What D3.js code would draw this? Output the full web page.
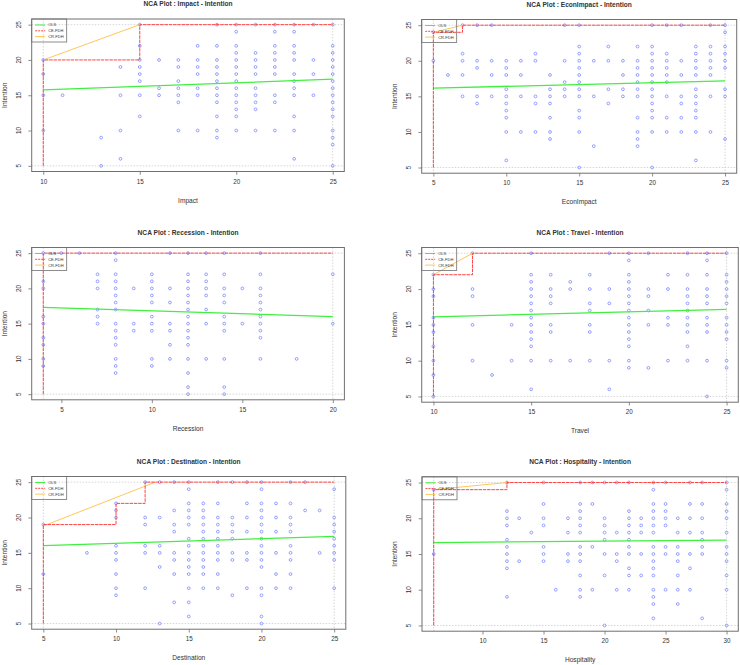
<!DOCTYPE html>
<html>
<head>
<meta charset="utf-8">
<script src="https://cdn.jsdelivr.net/npm/d3@7"></script>
<style>
  html, body { margin: 0; padding: 0; background: #ffffff; }
  svg { display: block; }
  text { font-family: "Liberation Sans", Arial, sans-serif; fill: #333; }
</style>
</head>
<body>
<svg id="chart" width="740" height="665"></svg>
<script>
// ---------- DATA ----------
const yName = "Intention";
const yTicks = [5, 10, 15, 20, 25];
const yRange = [5, 25];

// points grouped by x value: [x, [y values]]
const impactPoints = [
  [10, [20, 18, 15, 10]], [11, [15]], [13, [9, 5]], [14, [19, 15, 10, 6]],
  [15, [25, 22, 20, 19, 18, 17, 15, 12]], [16, [20, 16, 15]],
  [17, [20, 19, 17, 16, 15, 14, 10]], [18, [22, 20, 19, 18, 16, 15, 10]],
  [19, [25, 22, 20, 19, 18, 17, 16, 15, 14, 12, 10, 9]],
  [20, [25, 24, 22, 21, 20, 19, 18, 17, 16, 15, 14, 13, 12, 10]],
  [21, [25, 21, 20, 19, 18, 16, 15, 14, 13, 10]],
  [22, [25, 24, 22, 21, 20, 19, 18, 15, 14, 10]],
  [23, [25, 24, 22, 21, 20, 18, 17, 16, 15, 12, 10, 6]],
  [24, [25, 20, 18, 15]],
  [25, [25, 22, 21, 20, 19, 18, 17, 16, 15, 14, 13, 12, 10, 9, 8, 5]]
];
const econImpactPoints = [
  [5, [24, 20]], [6, [18]], [7, [25, 21, 20, 18, 15]], [8, [25, 20, 19, 15, 14]],
  [9, [25, 20, 18, 15]], [10, [20, 19, 18, 16, 15, 14, 13, 12, 10, 6]],
  [11, [20, 18, 15, 10]], [12, [21, 20, 15, 14, 10]], [13, [18, 16, 15, 14, 12, 10, 9]],
  [14, [25, 20, 17, 16, 15]], [15, [25, 22, 21, 20, 19, 18, 17, 16, 15, 13, 12, 10, 5]],
  [16, [20, 15, 8]], [17, [22, 20, 16, 14]], [18, [20, 18, 16, 15]],
  [19, [22, 20, 19, 18, 17, 16, 15, 12, 10, 9, 8]],
  [20, [25, 22, 21, 20, 19, 18, 17, 16, 15, 14, 13, 12, 10, 5]],
  [21, [25, 21, 20, 19, 18, 17, 15, 12, 10]], [22, [25, 20, 18, 15, 14, 12, 10]],
  [23, [22, 21, 20, 19, 18, 16, 15, 14, 13, 12, 10, 6]],
  [24, [25, 22, 21, 20, 19, 18, 15, 10]], [25, [25, 24, 22, 21, 20, 19, 16, 15, 9]]
];
const recessionPoints = [
  [4, [25, 21, 20, 16, 15, 13, 12, 10, 9]], [5, [25]], [6, [25]],
  [7, [22, 21, 20, 17, 16, 15]],
  [8, [25, 24, 22, 21, 20, 19, 18, 17, 15, 14, 13, 12, 10, 9, 8]],
  [9, [20, 15, 14]], [10, [22, 21, 20, 19, 18, 16, 15, 14, 10, 9]],
  [11, [25, 20, 18, 15, 14, 12, 10]],
  [12, [25, 22, 21, 20, 19, 18, 17, 16, 15, 14, 13, 12, 10, 8, 6, 5]],
  [13, [25, 22, 21, 20, 19, 17, 15, 10]],
  [14, [25, 22, 20, 19, 18, 16, 15, 14, 10, 6, 5]], [15, [20, 15]],
  [16, [25, 22, 20, 19, 18, 17, 16, 15, 14, 13, 10]], [18, [10]], [20, [22, 15]]
];
const travelPoints = [
  [10, [22, 20, 19, 16, 15, 14, 12, 10, 8, 5]], [12, [25, 20, 19, 15, 10]], [13, [8]],
  [14, [15, 10]], [15, [25, 22, 21, 20, 19, 18, 17, 16, 15, 14, 13, 12, 10, 6]],
  [16, [22, 20, 19, 18, 15, 14, 10]], [17, [21, 20, 10]], [18, [22, 20, 18, 17, 15, 14, 10]],
  [19, [25, 20, 18, 10, 6]], [20, [25, 24, 22, 21, 20, 19, 18, 17, 16, 15, 14, 13, 12, 10, 9]],
  [21, [25, 20, 19, 17, 15, 9]], [22, [22, 20, 16, 15, 10]],
  [23, [25, 22, 20, 19, 18, 17, 16, 15, 14, 12, 10]],
  [24, [25, 24, 22, 20, 19, 18, 16, 15, 14, 10, 5]],
  [25, [25, 22, 21, 20, 19, 18, 16, 15, 14, 13, 10, 9]]
];
const destinationPoints = [
  [5, [19, 12]], [8, [15]], [10, [22, 21, 20, 16, 15, 14, 12, 10, 9]],
  [12, [25, 20, 19, 16, 15, 10]], [13, [25, 20, 16, 15, 13, 5]],
  [14, [25, 21, 19, 18, 15, 14, 12, 8]],
  [15, [25, 24, 22, 21, 20, 19, 17, 16, 15, 14, 13, 12, 10, 8, 6]],
  [16, [22, 21, 20, 19, 18, 17, 16, 15, 14, 13, 12, 10]],
  [17, [25, 22, 20, 19, 18, 17, 16, 15, 14, 12, 10]],
  [18, [25, 20, 19, 18, 17, 15, 14, 9]], [19, [25, 22, 20, 18, 15, 14, 10]],
  [20, [25, 24, 22, 21, 20, 19, 18, 17, 16, 15, 14, 13, 10, 9, 6, 5]],
  [21, [22, 20, 18, 15, 12, 10]], [22, [25, 22, 20, 19, 18, 16, 15, 14, 12, 10]],
  [23, [25, 21]], [24, [21, 15]], [25, [24, 20, 19, 18, 17, 16, 15, 14, 10]]
];
const hospitalityPoints = [
  [6, [24, 15]], [12, [25, 21, 20, 19, 17, 16, 15, 14, 13, 9]], [13, [20, 14]], [14, [18]],
  [15, [25, 22, 20, 19, 16, 15, 14]], [16, [10]], [17, [20, 18, 15, 14]],
  [18, [25, 22, 21, 20, 19, 18, 16, 15, 14, 12, 10, 9]], [19, [25, 22, 16, 10]],
  [20, [25, 20, 19, 18, 17, 15, 12, 5]], [21, [25, 18, 15, 14, 10]],
  [22, [25, 21, 20, 19, 18, 17, 16, 15, 13, 12, 10]], [23, [20, 19, 18, 15, 12]],
  [24, [25, 24, 22, 21, 20, 19, 18, 16, 15, 14, 13, 12, 10, 9, 8, 6]],
  [25, [25, 22, 21, 20, 19, 16, 15, 10]], [26, [20, 18, 16, 15, 14, 12, 10, 8]],
  [27, [25, 22, 20, 18, 15, 13, 10]], [28, [25, 22, 20, 18, 17, 16, 15, 6]],
  [30, [25, 24, 22, 21, 20, 18, 16, 15, 14, 12, 10, 5]]
];

// x ranges and tick labels
const impactTicks = [10, 15, 20, 25];
const econImpactTicks = [5, 10, 15, 20, 25];
const recessionTicks = [5, 10, 15, 20];
const travelTicks = [10, 15, 20, 25];
const destinationTicks = [5, 10, 15, 20, 25];
const hospitalityTicks = [10, 15, 20, 25, 30];

// OLS line end points [[x0,y0],[x1,y1]]
const impactOls = [[10, 15.75], [25, 17.27]];
const econImpactOls = [[5, 16.15], [25, 17.18]];
const recessionOls = [[4, 17.32], [20, 16.0]];
const travelOls = [[10, 16.12], [25, 17.15]];
const destinationOls = [[5, 16.02], [25, 17.34]];
const hospitalityOls = [[6, 16.6], [30, 16.94]];

// CE-FDH step ceiling vertices
const impactCe = [[10, 5], [10, 20], [15, 20], [15, 25], [25, 25]];
const econImpactCe = [[5, 5], [5, 24], [7, 24], [7, 25], [25, 25]];
const recessionCe = [[4, 5], [4, 25], [20, 25]];
const travelCe = [[10, 5], [10, 22], [12, 22], [12, 25], [25, 25]];
const destinationCe = [[5, 5], [5, 19], [10, 19], [10, 22], [12, 22], [12, 25], [25, 25]];
const hospitalityCe = [[6, 5], [6, 24], [12, 24], [12, 25], [30, 25]];

// CR-FDH ceiling line
const impactCr = [[10, 20], [15, 25]];
const econImpactCr = [[5, 24], [7, 25]];
const recessionCr = [];
const travelCr = [[10, 22], [12, 25]];
const destinationCr = [[5, 18.8], [12.7, 25]];
const hospitalityCr = [[6, 24], [12, 25]];

const legendNames = ["OLS", "CE-FDH", "CR-FDH"];

// ---------- LAYOUT ----------
const panels = [
  { name: "Impact", pts: impactPoints, xr: [10, 25], ticks: impactTicks, ols: impactOls, ce: impactCe, cr: impactCr,
    box: { l: 31.7, r: 344.3, t: 19, b: 171.5 } },
  { name: "EconImpact", pts: econImpactPoints, xr: [5, 25], ticks: econImpactTicks, ols: econImpactOls, ce: econImpactCe, cr: econImpactCr,
    box: { l: 421.7, r: 736.7, t: 19.5, b: 173.2 } },
  { name: "Recession", pts: recessionPoints, xr: [4, 20], ticks: recessionTicks, ols: recessionOls, ce: recessionCe, cr: recessionCr,
    box: { l: 31.7, r: 344.4, t: 247.5, b: 399.8 } },
  { name: "Travel", pts: travelPoints, xr: [10, 25], ticks: travelTicks, ols: travelOls, ce: travelCe, cr: travelCr,
    box: { l: 421.7, r: 738.3, t: 247.5, b: 402.2 } },
  { name: "Destination", pts: destinationPoints, xr: [5, 25], ticks: destinationTicks, ols: destinationOls, ce: destinationCe, cr: destinationCr,
    box: { l: 31.7, r: 345.8, t: 476.5, b: 629.2 } },
  { name: "Hospitality", pts: hospitalityPoints, xr: [6, 30], ticks: hospitalityTicks, ols: hospitalityOls, ce: hospitalityCe, cr: hospitalityCr,
    box: { l: 422.0, r: 738.3, t: 476.8, b: 631.2 } }
];

const svg = d3.select("#chart");
const colors = { pt: "#7482ff", ols: "#40f040", ce: "#ff4545", cr: "#ffc65a", box: "#707070", grid: "#cccccc" };

function padded([a, b]) { const p = (b - a) * 0.04; return [a - p, b + p]; }

panels.forEach(p => {
  const B = p.box;
  const x = d3.scaleLinear().domain(padded(p.xr)).range([B.l, B.r]);
  const y = d3.scaleLinear().domain(padded(yRange)).range([B.b, B.t]);
  const g = svg.append("g");

  // scope dotted lines
  const gl = g.append("g").attr("stroke", colors.grid).attr("stroke-width", 0.8).attr("stroke-dasharray", "1.5,1.5");
  yRange.forEach(v => gl.append("line").attr("x1", B.l).attr("x2", B.r).attr("y1", y(v)).attr("y2", y(v)));
  p.xr.forEach(v => gl.append("line").attr("y1", B.t).attr("y2", B.b).attr("x1", x(v)).attr("x2", x(v)));

  // points
  const flat = p.pts.flatMap(([xv, ys]) => ys.map(yv => [xv, yv]));
  g.append("g").selectAll("circle").data(flat).join("circle")
    .attr("cx", d => x(d[0])).attr("cy", d => y(d[1])).attr("r", 1.4)
    .attr("fill", "none").attr("stroke", colors.pt).attr("stroke-width", 0.75);

  const line = d3.line().x(d => x(d[0])).y(d => y(d[1]));
  // OLS
  g.append("path").attr("d", line(p.ols)).attr("fill", "none")
    .attr("stroke", colors.ols).attr("stroke-width", 1.3);
  // CR-FDH
  if (p.cr.length) g.append("path").attr("d", line(p.cr)).attr("fill", "none")
    .attr("stroke", colors.cr).attr("stroke-width", 1);
  // CE-FDH
  g.append("path").attr("d", line(p.ce)).attr("fill", "none")
    .attr("stroke", colors.ce).attr("stroke-width", 1).attr("stroke-dasharray", "3.5,0.8");

  // box
  g.append("rect").attr("x", B.l).attr("y", B.t).attr("width", B.r - B.l).attr("height", B.b - B.t)
    .attr("fill", "none").attr("stroke", colors.box).attr("stroke-width", 1);

  // x axis
  const xa = d3.axisBottom(x).tickValues(p.ticks).tickSize(3.3).tickPadding(4.5).tickFormat(d3.format("d"));
  const xg = g.append("g").attr("transform", `translate(0,${B.b})`).call(xa);
  xg.select(".domain").remove();
  xg.selectAll("line").attr("stroke", colors.box).attr("stroke-width", 0.8);
  xg.selectAll("text").attr("font-size", 6.3).attr("fill", "#333").attr("font-family", "Liberation Sans, Arial, sans-serif");

  // y axis (rotated labels like R)
  const ya = d3.axisLeft(y).tickValues(yTicks).tickSize(3.3).tickFormat("");
  const yg = g.append("g").attr("transform", `translate(${B.l},0)`).call(ya);
  yg.select(".domain").remove();
  yg.selectAll("line").attr("stroke", colors.box).attr("stroke-width", 0.8);
  yTicks.forEach(v => {
    g.append("text").attr("transform", `translate(${B.l - 10.8},${y(v)}) rotate(-90)`)
      .attr("text-anchor", "middle").attr("font-size", 6.3).text(v);
  });

  // titles and labels
  const cx = (B.l + B.r) / 2;
  g.append("text").attr("x", cx).attr("y", B.t - 12.6).attr("text-anchor", "middle")
    .attr("font-size", 6.6).attr("font-weight", "bold").attr("fill", "#222")
    .text(`NCA Plot : ${p.name} - ${yName}`);
  g.append("text").attr("x", cx).attr("y", B.b + 31).attr("text-anchor", "middle")
    .attr("font-size", 6.6).text(p.name);
  g.append("text").attr("transform", `translate(${B.l - 24.6},${(B.t + B.b) / 2}) rotate(-90)`)
    .attr("text-anchor", "middle").attr("font-size", 6.6).text(yName);

  // legend
  const lg = g.append("g").attr("transform", `translate(${B.l},${B.t})`);
  lg.append("rect").attr("x", 0).attr("y", 0).attr("width", 35).attr("height", 23)
    .attr("fill", "none").attr("stroke", colors.box).attr("stroke-width", 0.8);
  const lc = [colors.ols, colors.ce, colors.cr];
  legendNames.forEach((n, i) => {
    const yy = 6 + i * 5.8;
    lg.append("line").attr("x1", 3.5).attr("x2", 13.5).attr("y1", yy).attr("y2", yy)
      .attr("stroke", lc[i]).attr("stroke-width", 1)
      .attr("stroke-dasharray", i === 1 ? "2,1" : null);
    lg.append("text").attr("x", 16.5).attr("y", yy + 1.4).attr("font-size", 4).attr("fill", "#444").text(n);
  });
});
</script>
</body>
</html>
